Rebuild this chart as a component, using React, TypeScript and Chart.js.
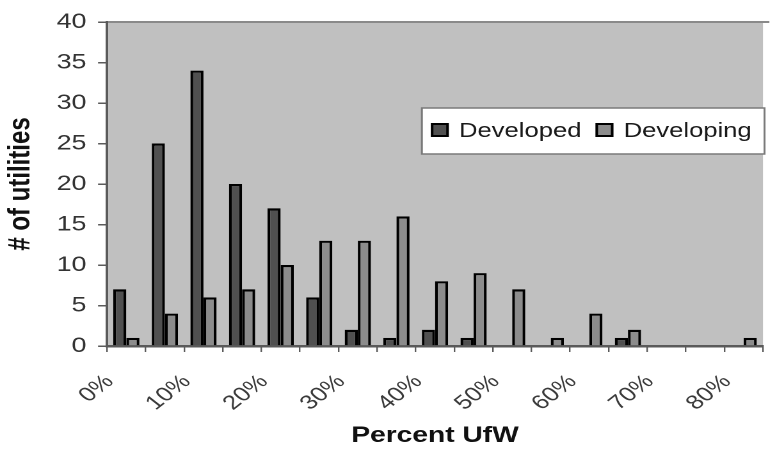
import React, { useEffect, useRef } from 'react';
import { Chart, registerables } from 'chart.js';

Chart.register(...registerables);

// ---- data ----
const categories = ['0%', '5%', '10%', '15%', '20%', '25%', '30%', '35%', '40%', '45%', '50%', '55%', '60%', '65%', '70%', '75%', '80%'];
const developed = [7, 25, 34, 20, 17, 6, 2, 1, 2, 1, 0, 0, 0, 1, 0, 0, 0];
const developing = [1, 4, 6, 7, 10, 13, 13, 16, 8, 9, 7, 1, 4, 2, 0, 0, 1];
const seriesNames = ['Developed', 'Developing'];
const yMin = 0;
const yMax = 40;
const yStep = 5;
const xTitle = 'Percent UfW';
const yTitle = '# of utilities';

// ---- styling ----
const FONT = '"Liberation Sans", Arial, Helvetica, sans-serif';
const STRETCH = 1.28;
const CANVAS_W = 616;
const CANVAS_H = 450;
const DEV_COLOR = '#505050';
const DEVG_COLOR = '#8c8c8c';
const PLOT_BG = '#c0c0c0';
const AXIS_COLOR = '#5a5a5a';

const plotBgPlugin = {
  id: 'plotBg',
  beforeDraw(chart: any) {
    const { ctx, chartArea } = chart;
    if (!chartArea) return;
    ctx.save();
    ctx.fillStyle = PLOT_BG;
    ctx.fillRect(chartArea.left, chartArea.top, chartArea.right - chartArea.left, chartArea.bottom - chartArea.top);
    ctx.strokeStyle = '#8a8a8a';
    ctx.lineWidth = 2;
    ctx.beginPath();
    ctx.moveTo(chartArea.left, chartArea.top);
    ctx.lineTo(chartArea.right + 5, chartArea.top);
    ctx.stroke();
    ctx.restore();
  },
};

const boxLegendPlugin = {
  id: 'boxLegend',
  afterDraw(chart: any) {
    const { ctx, chartArea } = chart;
    if (!chartArea) return;
    const ds = chart.data.datasets;
    ctx.save();
    ctx.font = `20px ${FONT}`;
    const marker = 14;
    const padL = 7;
    const gap = 8;
    const itemGap = 11;
    const padR = 10;
    const widths = ds.map((d: any) => ctx.measureText(d.label).width);
    let total = padL;
    widths.forEach((w: number, i: number) => {
      total += marker + gap + w + (i < widths.length - 1 ? itemGap : 0);
    });
    total += padR;
    const bx = chartArea.left + 246;
    const by = chartArea.top + 86;
    const bh = 46;
    ctx.fillStyle = '#ffffff';
    ctx.fillRect(bx, by, total, bh);
    ctx.strokeStyle = '#7a7a7a';
    ctx.lineWidth = 1.5;
    ctx.strokeRect(bx, by, total, bh);
    let x = bx + padL;
    ds.forEach((d: any, i: number) => {
      const my = by + 15;
      ctx.fillStyle = d.backgroundColor;
      ctx.fillRect(x, my, marker, marker);
      ctx.strokeStyle = '#000';
      ctx.lineWidth = 2;
      ctx.strokeRect(x + 1, my + 1, marker - 2, marker - 2);
      ctx.fillStyle = '#1a1a1a';
      ctx.textBaseline = 'alphabetic';
      ctx.textAlign = 'left';
      ctx.fillText(d.label, x + marker + gap, by + 29);
      x += marker + gap + widths[i] + itemGap;
    });
    ctx.restore();
  },
};

export default function App() {
  const ref = useRef<HTMLCanvasElement>(null);

  useEffect(() => {
    const canvas = ref.current;
    if (!canvas) return;
    const chart = new Chart(canvas, {
      type: 'bar',
      data: {
        labels: categories,
        datasets: [
          {
            label: seriesNames[0],
            data: developed,
            backgroundColor: DEV_COLOR,
            borderColor: '#000000',
            borderWidth: 2.2,
          },
          {
            label: seriesNames[1],
            data: developing,
            backgroundColor: DEVG_COLOR,
            borderColor: '#000000',
            borderWidth: 2.2,
          },
        ],
      },
      options: {
        responsive: false,
        animation: false,
        devicePixelRatio: 2,
        layout: { padding: { top: 22, right: 1, bottom: 0, left: 0 } },
        datasets: { bar: { categoryPercentage: 0.68, barPercentage: 1 } },
        plugins: {
          legend: { display: false },
          tooltip: { enabled: false },
        },
        scales: {
          x: {
            type: 'category',
            offset: true,
            grid: {
              display: true,
              drawOnChartArea: false,
              drawTicks: true,
              tickLength: 6,
              offset: true,
              color: AXIS_COLOR,
              tickColor: AXIS_COLOR,
              lineWidth: 1.2,
            },
            border: { display: true, color: AXIS_COLOR, width: 2.5 },
            ticks: {
              autoSkip: false,
              maxRotation: 45,
              minRotation: 45,
              labelOffset: -13,
              padding: 18,
              color: '#3a3a3a',
              font: { family: FONT, size: 20 },
              callback: (_v: any, i: number) => (i % 2 === 0 ? categories[i] : ''),
            },
            title: {
              display: true,
              text: xTitle,
              color: '#111111',
              font: { family: FONT, size: 22, weight: 'bold' },
              padding: { top: 0, bottom: 1 },
            },
            afterFit: (s: any) => {
              s.height = 104;
            },
          },
          y: {
            min: yMin,
            max: yMax,
            grid: {
              display: true,
              drawOnChartArea: false,
              drawTicks: true,
              tickLength: 7,
              color: AXIS_COLOR,
              tickColor: AXIS_COLOR,
              lineWidth: 1.5,
            },
            border: { display: true, color: AXIS_COLOR, width: 2 },
            ticks: {
              stepSize: yStep,
              padding: 9,
              color: '#333333',
              font: { family: FONT, size: 21 },
            },
            title: {
              display: true,
              text: yTitle,
              color: '#111111',
              font: { family: FONT, size: 24, weight: 'bold' },
              padding: { top: 2, bottom: 0 },
            },
            afterFit: (s: any) => {
              s.width = 83.6;
            },
          },
        },
      },
      plugins: [plotBgPlugin, boxLegendPlugin],
    } as any);
    return () => chart.destroy();
  }, []);

  return (
    <div
      style={{
        position: 'fixed',
        left: 0,
        top: 0,
        width: 784,
        height: 450,
        overflow: 'hidden',
        background: '#ffffff',
      }}
    >
      <div
        style={{
          width: CANVAS_W,
          height: CANVAS_H,
          transform: `scaleX(${STRETCH})`,
          transformOrigin: '0 0',
        }}
      >
        <canvas ref={ref} width={CANVAS_W} height={CANVAS_H} />
      </div>
    </div>
  );
}
